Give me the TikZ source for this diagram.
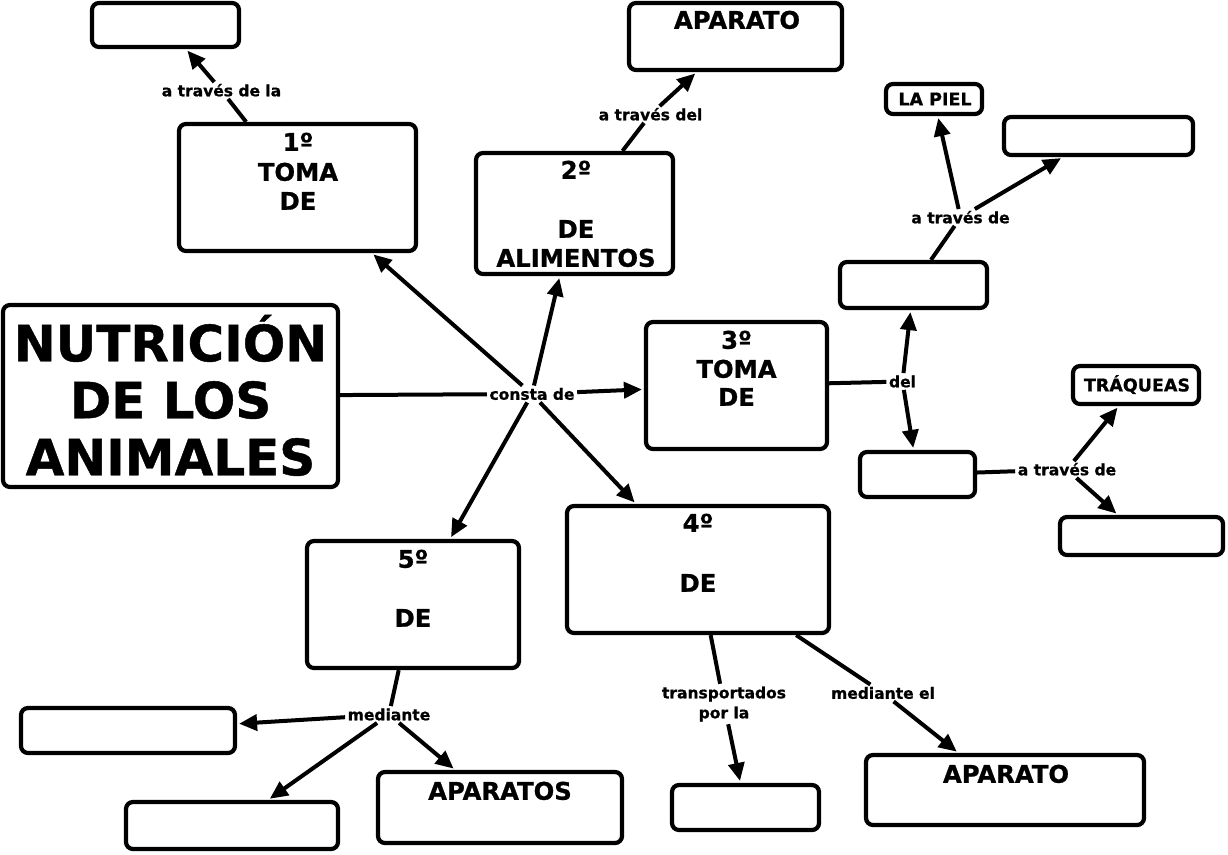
\documentclass[tikz,border=0pt]{standalone}
\usepackage{fontspec}
\setmainfont{DejaVu Sans}[BoldFeatures={FakeBold=0.9}]
\usetikzlibrary{arrows.meta}
\begin{document}
\begin{tikzpicture}[x=1pt,y=-1pt,
  box/.style={draw, line width=4.2pt, rounded corners=7pt, inner sep=0pt},
  btxt/.style={font=\bfseries\fontsize{24.3}{28}\selectfont, inner sep=0pt, text height=17.5pt, text depth=0pt},
  stxt/.style={font=\bfseries\fontsize{17.5}{21}\selectfont, inner sep=0pt, text height=12.8pt, text depth=0pt},
  htxt/.style={font=\bfseries\fontsize{50}{57}\selectfont, inner sep=0pt, text height=36.5pt, text depth=0pt},
  lbl/.style={font=\bfseries\fontsize{15.5}{19}\selectfont, inner sep=2.5pt, text height=11.5pt, text depth=0pt},
  lbltwo/.style={font=\bfseries\fontsize{15.5}{20}\selectfont, inner sep=2.5pt, align=center},
  con/.style={line width=4pt},
  arr/.style={con, -{Triangle[length=18pt,width=16pt]}, shorten >=2pt},
]
\useasboundingbox (0,0) rectangle (1228,854);

% boxes
\node[box, minimum width=147pt, minimum height=44pt] (bA) at (165.5,25) {};
\node[box, minimum width=237pt, minimum height=127pt] (b1) at (297.5,187.5) {};
\node[box, minimum width=213pt, minimum height=67pt] (bApA) at (735.5,36.5) {};
\node[box, minimum width=197pt, minimum height=121pt] (b2) at (574.5,213.5) {};
\node[box, minimum width=96pt, minimum height=30pt] (bPiel) at (934,99) {};
\node[box, minimum width=189pt, minimum height=38pt] (bTR) at (1098.5,136) {};
\node[box, minimum width=147pt, minimum height=46pt] (bMR) at (913.5,285) {};
\node[box, minimum width=181pt, minimum height=127pt] (b3) at (736.5,385.5) {};
\node[box, minimum width=126pt, minimum height=38pt] (bTraq) at (1136,385) {};
\node[box, minimum width=115pt, minimum height=45pt] (bLR) at (917.5,474.5) {};
\node[box, minimum width=163pt, minimum height=38pt] (bLRb) at (1141.5,536) {};
\node[box, minimum width=335pt, minimum height=182pt] (nut) at (170.5,396) {};
\node[box, minimum width=262pt, minimum height=127pt] (b4) at (698,569.5) {};
\node[box, minimum width=212pt, minimum height=127pt] (b5) at (413,604.5) {};
\node[box, minimum width=214pt, minimum height=45pt] (bL) at (128,730.5) {};
\node[box, minimum width=212pt, minimum height=47pt] (bBL) at (232,825.5) {};
\node[box, minimum width=244pt, minimum height=71pt] (bAps) at (500,807.5) {};
\node[box, minimum width=147pt, minimum height=45pt] (bB) at (745.5,807.5) {};
\node[box, minimum width=278pt, minimum height=70pt] (bApB) at (1005,790) {};

% box texts
\node[btxt] (t1a) at (298,142) {1º};
\node[btxt] (t1b) at (298,172) {TOMA};
\node[btxt] (t1c) at (298,201) {DE};
\node[btxt] (tApA) at (737,20) {APARATO};
\node[btxt] (t2a) at (576,170) {2º};
\node[btxt] (t2b) at (576,229) {DE};
\node[btxt] (t2c) at (576,258) {ALIMENTOS};
\node[btxt] (t3a) at (736.5,340) {3º};
\node[btxt] (t3b) at (736.5,369) {TOMA};
\node[btxt] (t3c) at (736.5,397) {DE};
\node[btxt] (t4a) at (698,523) {4º};
\node[btxt] (t4b) at (698,583) {DE};
\node[btxt] (t5a) at (413,559) {5º};
\node[btxt] (t5b) at (413,618) {DE};
\node[btxt] (tAps) at (500,791) {APARATOS};
\node[btxt] (tApB) at (1006,774) {APARATO};
\node[stxt] (tPiel) at (935,99) {LA PIEL};
\node[stxt] (tTraq) at (1137,385) {TRÁQUEAS};
\node[htxt] (tn1) at (170.5,343) {NUTRICIÓN};
\node[htxt] (tn2) at (170.5,400) {DE LOS};
\node[htxt] (tn3) at (170.5,457) {ANIMALES};

% linking phrases
\node[lbl] (L1) at (221.5,90.5) {a través de la};
\node[lbl] (L2) at (650.5,114.5) {a través del};
\node[lbl] (Lc) at (532,394) {consta de};
\node[lbl] (Ld) at (902.5,381.5) {del};
\node[lbl] (Lu) at (960.5,217.5) {a través de};
\node[lbl] (Ll) at (1067,469.5) {a través de};
\node[lbl] (Lm) at (389,714.5) {mediante};
\node[lbltwo] (Lt) at (724,704) {transportados\\por la};
\node[lbl] (Lme) at (883,693) {mediante el};

% connectors
\draw[con] (b1) -- (L1);
\draw[arr] (L1) -- (bA);
\draw[con] (b2) -- (L2);
\draw[arr] (L2) -- (bApA);
\draw[con] (nut) -- (Lc);
\draw[arr] (Lc) -- (b3);
\draw[arr] (Lc) -- (b1);
\draw[arr] (Lc) -- (b2);
\draw[arr] (Lc) -- (b4);
\draw[arr] (Lc) -- (b5);
\draw[con] (b3) -- (Ld);
\draw[arr] (Ld) -- (bMR);
\draw[arr] (Ld) -- (bLR);
\draw[con] (bMR) -- (Lu);
\draw[arr] (Lu) -- (bPiel);
\draw[arr] (Lu) -- (bTR);
\draw[con] (bLR) -- (Ll);
\draw[arr] (Ll) -- (bTraq);
\draw[arr] (Ll) -- (bLRb);
\draw[con] (b5) -- (Lm);
\draw[arr] (Lm) -- (bL);
\draw[arr] (Lm) -- (bBL);
\draw[arr] (Lm) -- (bAps);
\draw[con] (b4) -- (Lt);
\draw[arr] (Lt) -- (bB);
\draw[con] (b4) -- (Lme);
\draw[arr] (Lme) -- (bApB);
\end{tikzpicture}
\end{document}
